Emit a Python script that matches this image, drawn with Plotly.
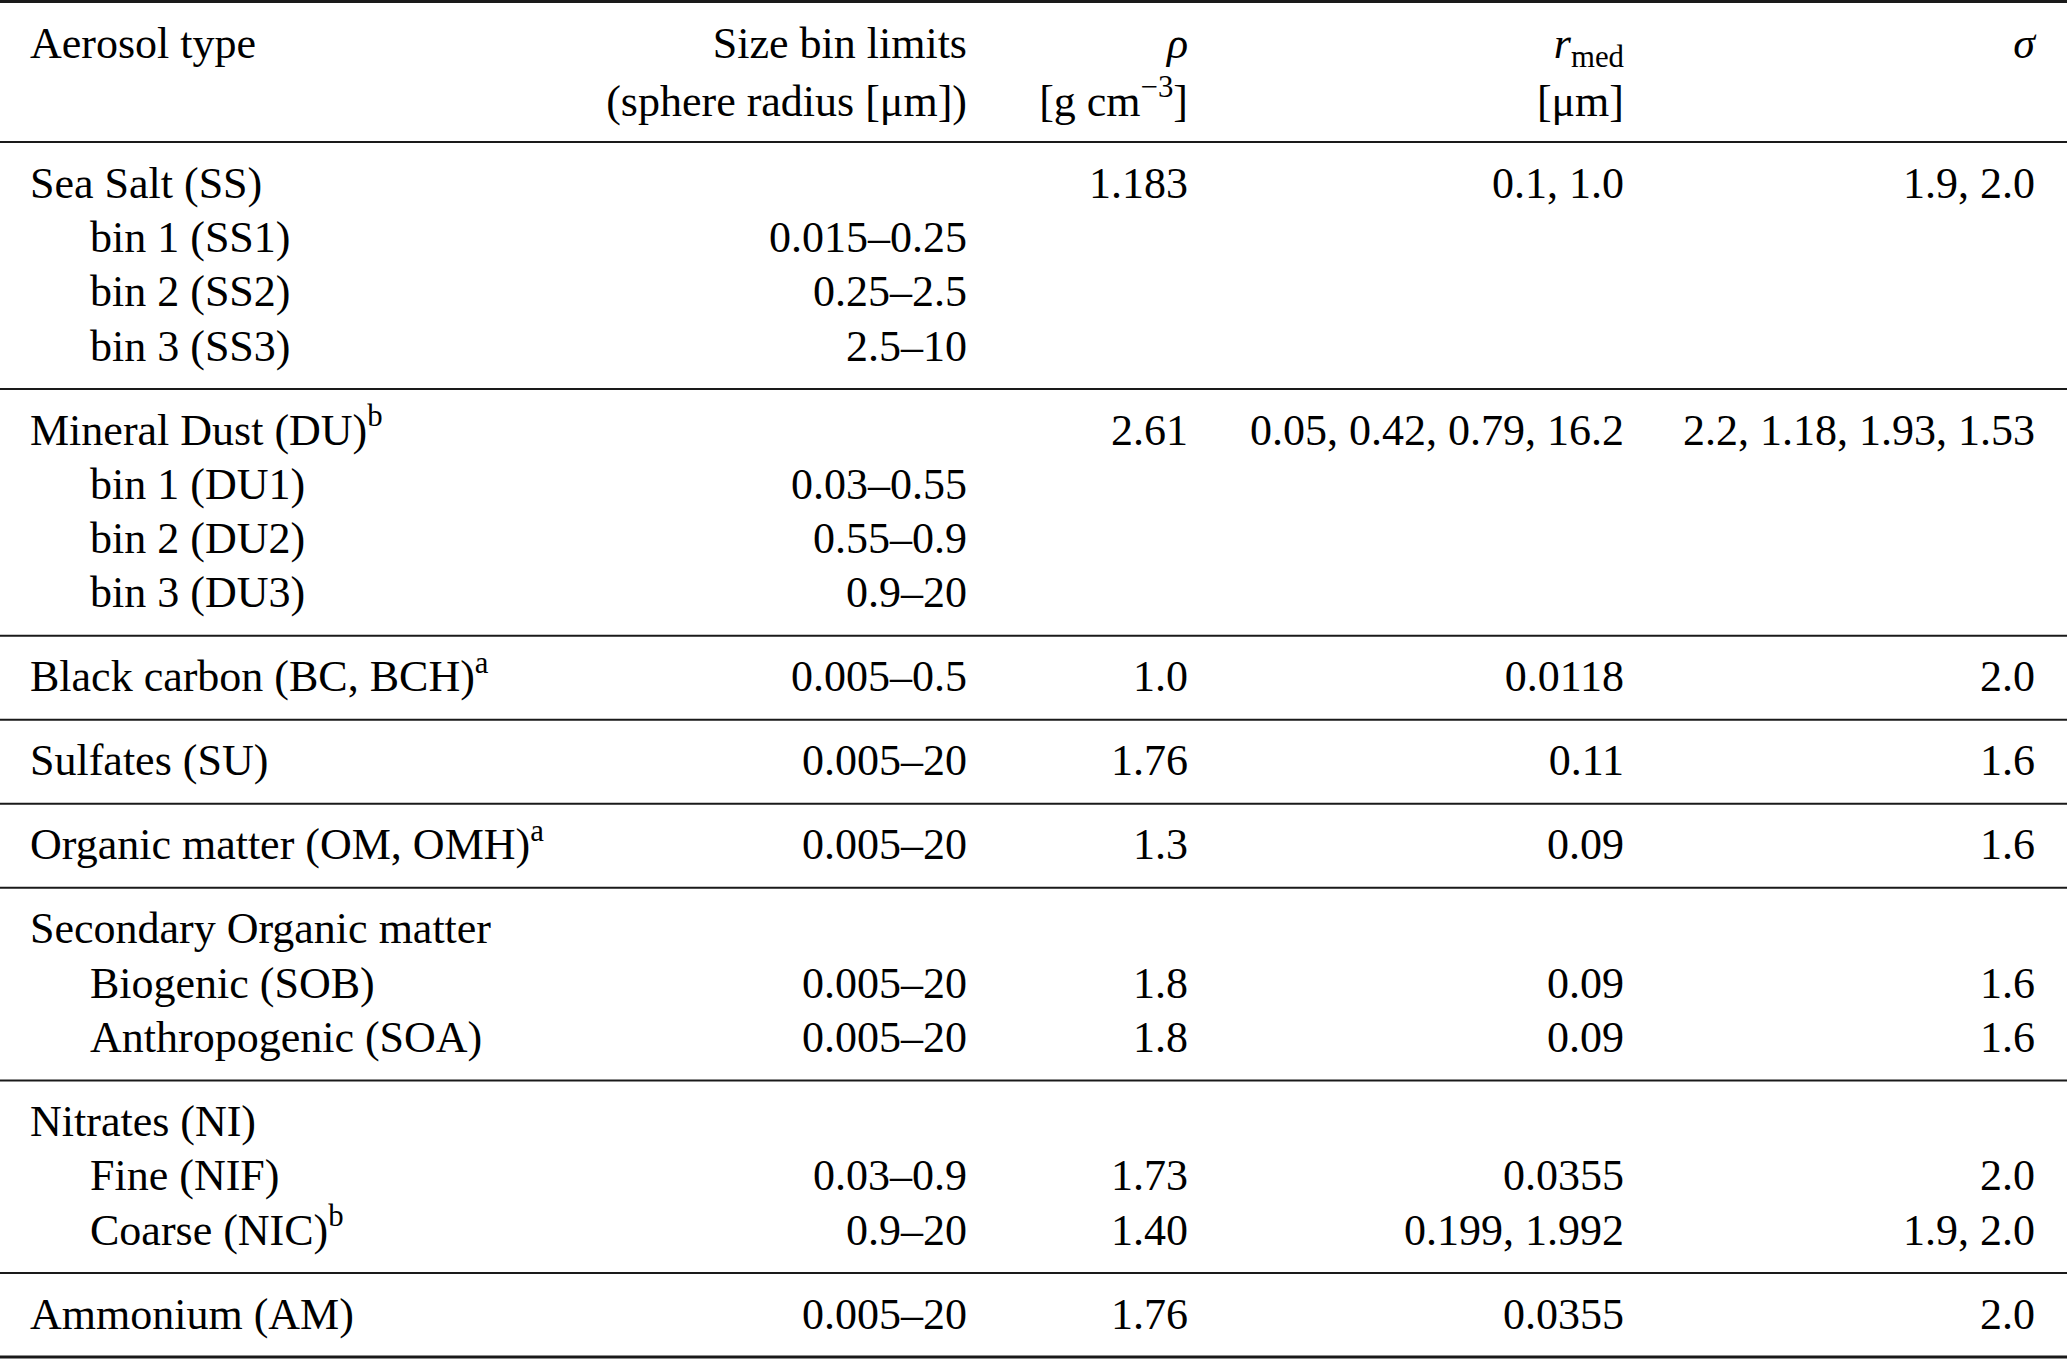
import plotly.graph_objects as go

# Table content, one entry per body row
aerosol_type = [
    "Sea Salt (SS)", "bin 1 (SS1)", "bin 2 (SS2)", "bin 3 (SS3)",
    "Mineral Dust (DU)<sup>b</sup>", "bin 1 (DU1)", "bin 2 (DU2)", "bin 3 (DU3)",
    "Black carbon (BC, BCH)<sup>a</sup>",
    "Sulfates (SU)",
    "Organic matter (OM, OMH)<sup>a</sup>",
    "Secondary Organic matter", "Biogenic (SOB)", "Anthropogenic (SOA)",
    "Nitrates (NI)", "Fine (NIF)", "Coarse (NIC)<sup>b</sup>",
    "Ammonium (AM)",
]
indented = [0, 1, 1, 1, 0, 1, 1, 1, 0, 0, 0, 0, 1, 1, 0, 1, 1, 0]
size_bins = ["", "0.015–0.25", "0.25–2.5", "2.5–10",
             "", "0.03–0.55", "0.55–0.9", "0.9–20",
             "0.005–0.5", "0.005–20", "0.005–20",
             "", "0.005–20", "0.005–20",
             "", "0.03–0.9", "0.9–20", "0.005–20"]
rho = ["1.183", "", "", "", "2.61", "", "", "", "1.0", "1.76", "1.3",
       "", "1.8", "1.8", "", "1.73", "1.40", "1.76"]
r_med = ["0.1, 1.0", "", "", "", "0.05, 0.42, 0.79, 16.2", "", "", "",
         "0.0118", "0.11", "0.09", "", "0.09", "0.09",
         "", "0.0355", "0.199, 1.992", "0.0355"]
sigma = ["1.9, 2.0", "", "", "", "2.2, 1.18, 1.93, 1.53", "", "", "",
         "2.0", "1.6", "1.6", "", "1.6", "1.6",
         "", "2.0", "1.9, 2.0", "2.0"]
group_sizes = [4, 4, 1, 1, 1, 3, 3, 1]

header_top = ["Aerosol type", "Size bin limits", "<i>ρ</i>", "<i>r</i><sub>med</sub>", "<i>σ</i>"]
header_bottom = ["", "(sphere radius [μm])", "[g cm<sup>−3</sup>]", "[μm]", ""]

# layout (pixels)
W, H = 2067, 1361
FS = 44
FONT = "Liberation Serif, Times New Roman, serif"
left_x, indent_x = 30, 90
right_x = [967, 1188, 1624, 2035]   # right edges of columns 2..5
row_h = 54.3
first_base = 53      # rule -> first baseline
last_gap = 31        # last baseline -> rule
mid = 0.35 * FS - 7  # baseline offset of middle-anchored text

# compute baselines and rules
rules = [1.5, 142]
baselines = []
top = rules[-1]
for n in group_sizes:
    b = [top + first_base + row_h * i for i in range(n)]
    baselines += b
    top = b[-1] + last_gap
    rules.append(top)
rules[-1] = min(rules[-1], H - 2)
ys = [b - mid for b in baselines]

fig = go.Figure()
txt = dict(family=FONT, size=FS, color="black")


def add_text(xs, yv, labels, pos):
    keep = [i for i, s in enumerate(labels) if s]
    fig.add_trace(go.Scatter(x=[xs[i] for i in keep], y=[yv[i] for i in keep],
                             mode="text", text=[labels[i] for i in keep],
                             textposition=pos, textfont=txt, marker=dict(size=0),
                             hoverinfo="skip"))


# header
head_y = [55 - mid, 113 - mid]
add_text([left_x], head_y[:1], header_top[:1], "middle right")
for j in range(4):
    add_text([right_x[j]] * 2, head_y, [header_top[j + 1], header_bottom[j + 1]], "middle left")

# first column
add_text([indent_x if k else left_x for k in indented], ys, aerosol_type, "middle right")
# numeric columns
for j, col in enumerate([size_bins, rho, r_med, sigma]):
    add_text([right_x[j]] * len(col), ys, col, "middle left")

for i, r in enumerate(rules):
    fig.add_shape(type="line", xref="paper", x0=0, x1=1, y0=r, y1=r,
                  line=dict(color="#1a1a1a", width=3 if i in (0, len(rules) - 1) else 2))

fig.update_layout(
    width=W, height=H, margin=dict(l=0, r=0, t=0, b=0),
    paper_bgcolor="white", plot_bgcolor="white", showlegend=False,
    xaxis=dict(range=[0, W], visible=False, fixedrange=True),
    yaxis=dict(range=[H, 0], visible=False, fixedrange=True),
)

fig.write_html("out.html", config={"displayModeBar": False},
               post_script="document.body.style.margin='0';")
